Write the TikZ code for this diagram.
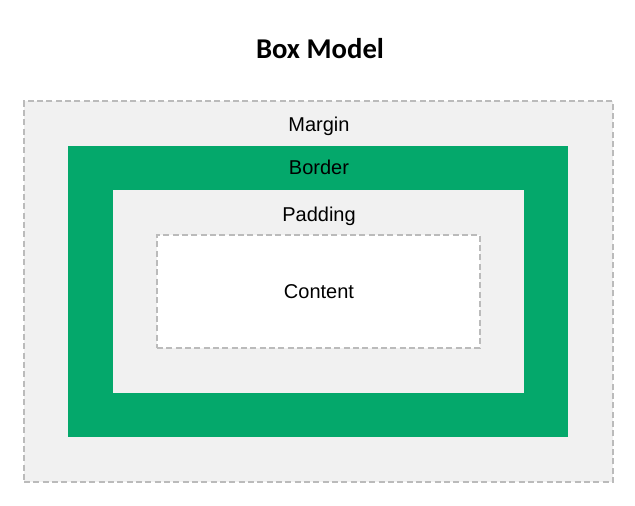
\documentclass[tikz,border=0pt]{standalone}
\usepackage{fontspec}
\setmainfont{Liberation Sans}
\newfontfamily\titlefont{Carlito}
\usepackage{xcolor}
\usetikzlibrary{positioning}

\definecolor{marginbg}{HTML}{F1F1F1}
\definecolor{bordergreen}{HTML}{04A86B}
\definecolor{dashgray}{HTML}{BBBBBB}

\begin{document}
\begin{tikzpicture}[
        x=0.75pt, y=-0.75pt,
        layer/.style={rectangle, inner sep=0pt, outer sep=0pt},
        dashed box/.style={layer, draw=dashgray, line width=1.1pt, dash pattern=on 4.5pt off 2.5pt},
        label/.style={font=\fontsize{15}{18}\selectfont, text=black, anchor=base}
    ]
        \useasboundingbox (0,0) rectangle (635,506);

        % Title
        \node[font=\titlefont\bfseries\fontsize{21.5}{24}\selectfont, anchor=base] (Title) at (320,59) {Box Model};

        % Layers
        \node[dashed box, fill=marginbg, minimum width=441.75pt, minimum height=285.75pt] (Margin) at (318.5,291.5) {};
        \node[layer, fill=bordergreen, minimum width=375pt, minimum height=218.25pt] (Border) at (318,291.5) {};
        \node[layer, fill=marginbg, minimum width=308.25pt, minimum height=152.25pt] (Padding) at (318.5,291.5) {};
        \node[dashed box, fill=white, minimum width=242.25pt, minimum height=84.75pt] (Content) at (318.5,291.5) {};

        % Labels
        \node[label] (MarginLabel) at (319,132) {Margin};
        \node[label] (BorderLabel) at (319,175) {Border};
        \node[label] (PaddingLabel) at (319,221) {Padding};
        \node[label] (ContentLabel) at (319,298) {Content};

    \end{tikzpicture}
\end{document}
